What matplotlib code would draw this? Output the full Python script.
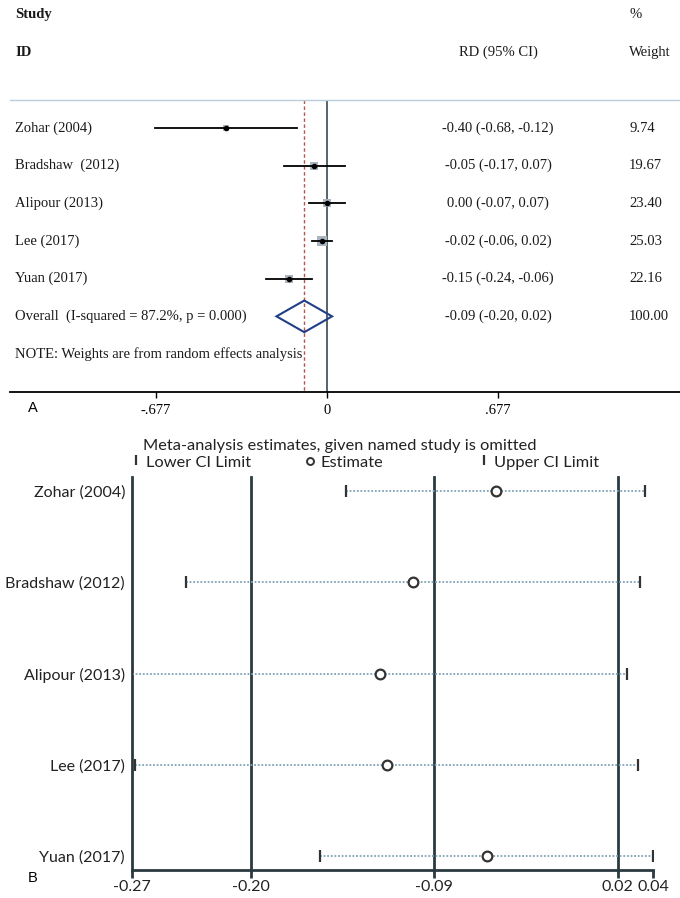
import numpy as np
import matplotlib.pyplot as plt
from matplotlib.lines import Line2D

# === Panel A data (forest plot) ===
studies = ["Zohar (2004)", "Bradshaw  (2012)", "Alipour (2013)", "Lee (2017)", "Yuan (2017)"]
rd = [-0.40, -0.05, 0.00, -0.02, -0.15]
rd_lo = [-0.68, -0.17, -0.07, -0.06, -0.24]
rd_hi = [-0.12, 0.07, 0.07, 0.02, -0.06]
weights = [9.74, 19.67, 23.40, 25.03, 22.16]
overall = [-0.09, -0.20, 0.02]  # estimate, lower, upper
overall_label = "Overall  (I-squared = 87.2%, p = 0.000)"
a_ticks = [-0.677, 0, 0.677]
a_ticklabels = ["-.677", "0", ".677"]

# === Panel B data (leave-one-out) ===
b_studies = ["Zohar (2004)", "Bradshaw (2012)", "Alipour (2013)", "Lee (2017)", "Yuan (2017)"]
omit_est = [-0.051, -0.100, -0.120, -0.116, -0.056]
omit_lo = [-0.140, -0.236, -0.268, -0.266, -0.156]
omit_hi = [0.038, 0.035, 0.0275, 0.034, 0.043]
b_ticks = [-0.268, -0.197, -0.088, 0.022, 0.043]
b_ticklabels = ["-0.27", "-0.20", "-0.09", "0.02", "0.04"]

W, H = 680, 898
fig = plt.figure(figsize=(W / 100, H / 100), dpi=100)
serif = "Liberation Serif"
sans = "Lato"
dark = "#2b3a40"


def box(left, top, right, bottom):
    return [left / W, 1 - bottom / H, (right - left) / W, (bottom - top) / H]


# ---------------- Panel A ----------------
axA = fig.add_axes(box(0, 0, W, 392))
scale = 171 / 0.677          # px per unit
zero_px = 327
row_h = 37.67
axA.set_xlim(-zero_px / scale, (W - zero_px) / scale)
y_bot = (392 - 128) / row_h
axA.set_ylim(y_bot, -128 / row_h)
line_y = -0.75

n = len(studies)
for i in range(n):
    axA.plot(rd[i], i, marker="s", ms=1.3 * np.sqrt(weights[i]), color="#aab5bf", mew=0, zorder=2)
    axA.plot([rd_lo[i], rd_hi[i]], [i, i], color="black", lw=1.3, zorder=3)
    axA.plot(rd[i], i, marker="o", ms=3, color="black", zorder=4)

est, lo, hi = overall
axA.fill([lo, est, hi, est], [n, n - 0.42, n, n + 0.42], fill=False,
         edgecolor="#1f3f87", lw=1.5, zorder=3)

axA.vlines(0, line_y, y_bot, colors="#3a4a52", lw=1.2, zorder=1)
axA.vlines(est, line_y, y_bot, colors="#b85450", lw=1, linestyles=(0, (2.5, 1.8)), zorder=1)
axA.axhline(line_y, xmin=10 / W, color="#b9cddc", lw=1)

for s in ["top", "right", "left"]:
    axA.spines[s].set_visible(False)
axA.spines["bottom"].set_bounds(-(zero_px - 10) / scale, (W - zero_px) / scale)
axA.spines["bottom"].set_linewidth(1.3)
axA.set_yticks([])
axA.set_xticks(a_ticks, a_ticklabels)
axA.tick_params(axis="x", length=4, width=1, pad=5)
for lab in axA.get_xticklabels():
    lab.set_fontfamily(serif)
    lab.set_fontsize(10.5)

tr = axA.get_yaxis_transform()
fs = 10.5
tkw = dict(transform=tr, fontfamily=serif, fontsize=fs, va="center", color="#1a1a1a")
axA.text(15 / W, -3.0, "Study", fontweight="bold", **tkw)
axA.text(15 / W, -2.0, "ID", fontweight="bold", **tkw)
axA.text(498 / W, -2.0, "RD (95% CI)", ha="center", **tkw)
axA.text(629 / W, -3.0, "%", **tkw)
axA.text(629 / W, -2.0, "Weight", **tkw)
for i in range(n):
    axA.text(15 / W, i, studies[i], **tkw)
    axA.text(498 / W, i, f"{rd[i]:.2f} ({rd_lo[i]:.2f}, {rd_hi[i]:.2f})", ha="center", **tkw)
    axA.text(629 / W, i, f"{weights[i]:.2f}", **tkw)
axA.text(15 / W, n, overall_label, **tkw)
axA.text(498 / W, n, f"{est:.2f} ({lo:.2f}, {hi:.2f})", ha="center", **tkw)
axA.text(629 / W, n, f"{sum(weights):.2f}", **tkw)
axA.text(15 / W, n + 1, "NOTE: Weights are from random effects analysis", **tkw)

fig.text(28 / W, 1 - 408 / H, "A", fontfamily="Liberation Sans", fontsize=10.5, va="center")
fig.text(28 / W, 1 - 878 / H, "B", fontfamily="Liberation Sans", fontsize=10.5, va="center")

# ---------------- Panel B ----------------
axB = fig.add_axes(box(132, 477, 653, 870))
axB.set_xlim(min(omit_lo), max(omit_hi))
m = len(b_studies)
ypos = np.arange(1, m + 1)
axB.set_ylim(m + 0.15, 1 - 0.15)

dot_col = "#7fa3b8"
axB.hlines(ypos, omit_lo, omit_hi, colors=dot_col, linestyles=(0, (1, 1)), lw=1.3, zorder=2)
axB.plot(omit_lo, ypos, ls="none", marker="|", ms=8, mew=1.6, color="#333333", zorder=3)
axB.plot(omit_hi, ypos, ls="none", marker="|", ms=8, mew=1.6, color="#333333", zorder=3)
axB.plot(omit_est, ypos, ls="none", marker="o", ms=7, mfc="white", mec="#333333", mew=1.6, zorder=4)

for t in b_ticks[:-1]:
    axB.axvline(t, color=dark, lw=2, clip_on=False, zorder=1)

for s in ["top", "right", "left"]:
    axB.spines[s].set_visible(False)
axB.spines["bottom"].set_linewidth(2)
axB.spines["bottom"].set_color(dark)
axB.set_xticks(b_ticks, b_ticklabels)
axB.tick_params(axis="x", length=6, width=2, color=dark, pad=1, labelsize=11.5, labelcolor="#222222")
axB.set_yticks(ypos, b_studies)
axB.tick_params(axis="y", length=0, pad=5, labelsize=11.5, labelcolor="#222222")
for lab in axB.get_xticklabels() + axB.get_yticklabels():
    lab.set_fontfamily(sans)

fig.text(340 / W, 1 - 446 / H, "Meta-analysis estimates, given named study is omitted",
         ha="center", va="center", fontfamily=sans, fontsize=11.8, color="#222222")
legend_items = [("|", "Lower CI Limit", 136), ("o", "Estimate", 310), ("|", "Upper CI Limit", 484)]
for mk, lab, xp in legend_items:
    yl = 1 - 463 / H
    if mk == "o":
        fig.add_artist(Line2D([xp / W], [1 - 461 / H], marker="o", ms=5, mfc="white",
                              mec="#333333", mew=1.4, transform=fig.transFigure))
    else:
        fig.add_artist(Line2D([xp / W], [1 - 460 / H], marker="|", ms=7, mew=1.6,
                              color="#333333", transform=fig.transFigure))
    fig.text((xp + 10) / W, yl, lab, ha="left", va="center", fontfamily=sans,
             fontsize=11.8, color="#222222")

fig.savefig("out.png", dpi=100)
